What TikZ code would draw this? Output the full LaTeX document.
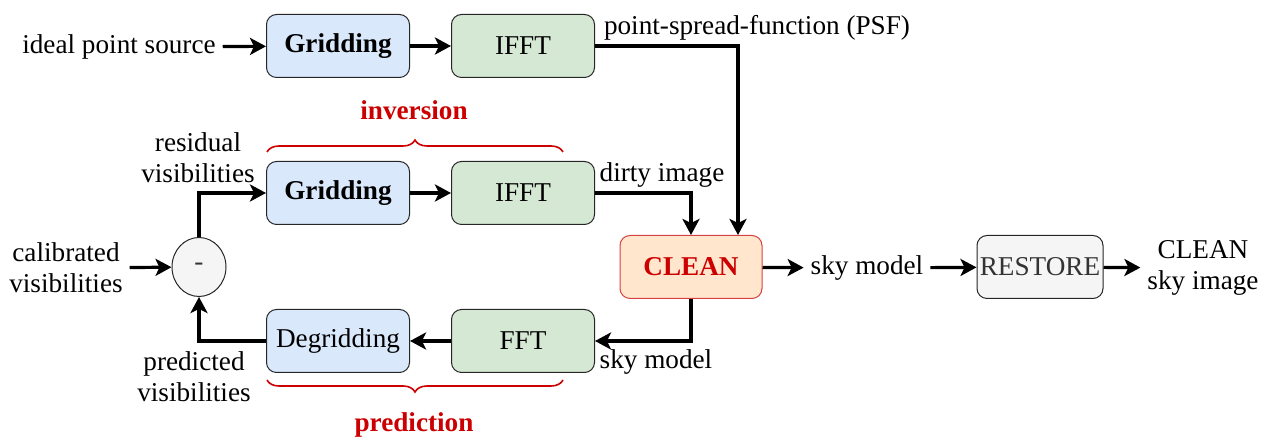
\documentclass[tikz,border=0pt]{standalone}
\usepackage{fontspec}
\setmainfont{Liberation Serif}
\usetikzlibrary{arrows.meta,shapes.geometric,decorations.pathreplacing}

\definecolor{gridblue}{HTML}{DAE8FC}
\definecolor{fftgreen}{HTML}{D5E8D4}
\definecolor{cleanfill}{HTML}{FFE6CC}
\definecolor{cleanred}{HTML}{CC0000}
\definecolor{restfill}{HTML}{F5F5F5}
\definecolor{resttext}{HTML}{333333}

\tikzset{
    blk/.style={draw=black!85, rounded corners=5pt, minimum width=71.5pt, minimum height=31.5pt, line width=0.5pt},
    flow/.style={line width=1.6pt, -{Stealth[length=8pt, width=8.5pt, inset=2pt]}},
    brc/.style={draw=cleanred, line width=0.8pt, decorate, decoration={brace, amplitude=6pt}},
    txt/.style={align=center},
}

\begin{document}
\begin{tikzpicture}[x=0.5pt, y=-0.5pt, font=\fontsize{13.6}{15.5}\selectfont]
    \useasboundingbox (0,0) rectangle (1271,437);

    % PSF branch
    \node[txt] (src) at (119,47) {ideal point source};
    \node[blk, fill=gridblue] (grid1) at (338,46) {\textbf{Gridding}};
    \node[blk, fill=fftgreen] (ifft1) at (523,46) {IFFT};
    \node[txt] (psf) at (757,28) {point-spread-function (PSF)};

    % inversion
    \node[txt, text=cleanred, font=\fontsize{13.6}{15.5}\selectfont\bfseries] (inv) at (414,110) {inversion};
    \draw[brc] (267,152) -- (563,152);
    \node[txt] (resid) at (198,158) {residual\\visibilities};
    \node[blk, fill=gridblue] (grid2) at (338,193) {\textbf{Gridding}};
    \node[blk, fill=fftgreen] (ifft2) at (523,193) {IFFT};
    \node[txt] (dirty) at (662,175) {dirty image};

    % CLEAN and restore
    \node[blk, draw=cleanred!75, fill=cleanfill, text=cleanred, minimum width=71pt] (clean) at (691,267) {\textbf{CLEAN}};
    \node[txt] (sky1) at (867,268) {sky model};
    \node[blk, fill=restfill, text=resttext, minimum width=63pt, inner xsep=1pt] (restore) at (1040,267) {RESTORE};
    \node[txt] (out) at (1203,268) {CLEAN\\sky image};

    % subtraction
    \node[txt] (cal) at (66,268) {calibrated\\visibilities};
    \node[draw=black!85, fill=restfill, text=resttext, ellipse, line width=0.5pt, minimum width=27pt, minimum height=29.5pt, inner sep=0pt] (minus) at (199,267) {-};

    % prediction
    \node[blk, fill=gridblue] (degrid) at (338,341) {Degridding};
    \node[blk, fill=fftgreen] (fft) at (523,341) {FFT};
    \node[txt] (sky2) at (656,362) {sky model};
    \node[txt] (pred) at (194,377) {predicted\\visibilities};
    \draw[brc] (563,380) -- (267,380);
    \node[txt, text=cleanred, font=\fontsize{13.6}{15.5}\selectfont\bfseries] (prd) at (414,425) {prediction};

    % connectors
    \draw[flow] (src) -- (grid1);
    \draw[flow] (grid1) -- (ifft1);
    \draw[flow] (ifft1.east) -| ([xshift=23.5pt]clean.north);
    \draw[flow] (cal) -- (minus);
    \draw[flow] (minus) |- (grid2);
    \draw[flow] (grid2) -- (ifft2);
    \draw[flow] (ifft2.east) -| (clean.north);
    \draw[flow] (clean) -- (sky1);
    \draw[flow] (sky1) -- (restore);
    \draw[flow] (restore) -- (out);
    \draw[flow] (clean.south) |- (fft);
    \draw[flow] (fft) -- (degrid);
    \draw[flow] (degrid) -| (minus);
\end{tikzpicture}
\end{document}
